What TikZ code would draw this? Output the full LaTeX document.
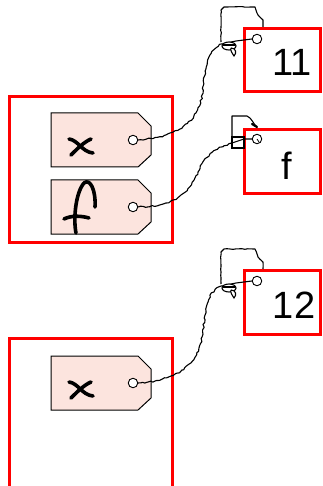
\documentclass[tikz,border=0pt]{standalone}
\usepackage{fontspec}
\setmainfont{Liberation Sans}
\usetikzlibrary{decorations.pathmorphing}
\definecolor{tagpink}{RGB}{252,228,222}
\begin{document}
\begin{tikzpicture}[x=1pt,y=-1pt,
  frame/.style={draw=red,line width=3pt},
  tagbody/.style={draw=black,fill=tagpink,line width=1pt,line join=miter},
  hole/.style={circle,draw,fill=white,inner sep=0pt,minimum size=9.5pt,line width=0.9pt},
  ink/.style={line width=3.6pt,line cap=round,line join=round},
  string/.style={line width=1.1pt,line join=round,decorate,
    decoration={random steps,segment length=2.4pt,amplitude=0.8pt}},
  loopstring/.style={line width=1.1pt,line join=round,decorate,
    decoration={random steps,segment length=3pt,amplitude=0.4pt}},
  plainstring/.style={line width=1.1pt,line join=round},
  valtext/.style={font=\fontsize{38}{40}\selectfont,inner sep=0pt},
  luggage/.pic={
    \draw[tagbody] (0,0) -- (87,0) -- (100,13) -- (100,42) -- (87,54) -- (0,54) -- cycle;
    \node[hole] (-hole) at (82,27) {};
  }]
\pgfmathsetseed{7}
\useasboundingbox (0,0) rectangle (323,486);

% variable frames
\draw[frame] (9.5,96.5) rectangle (172,242);
\draw[frame] (9.5,338.5) rectangle (172,500);

% value boxes
\draw[frame] (244.5,28.5) rectangle (320.5,92);
\node[valtext] (v11) at (292,62) {11};
\draw[frame] (244.5,129.5) rectangle (320.5,193);
\node[valtext] (vf) at (287,166) {f};
\draw[frame] (244.5,270.5) rectangle (320.5,334);
\node[valtext] (v12) at (294,305) {12};

% name tags
\pic (tx) at (51,113) {luggage};
\pic (tf) at (51,180) {luggage};
\pic (ty) at (51,356) {luggage};

% handwritten names
\draw[ink] (69,139) .. controls (78,140) and (82,152) .. (93,153);
\draw[ink] (91,139) .. controls (84,142) and (77,149) .. (71,155);
\draw[ink] (69,382) .. controls (78,383) and (82,395) .. (93,396);
\draw[ink] (91,382) .. controls (84,385) and (77,392) .. (71,398);
\draw[ink] (76,233) .. controls (73,218) and (76,192) .. (84,183)
  .. controls (90,178) and (96,190) .. (95,207);
\draw[ink] (64,219) .. controls (72,215) and (82,216) .. (89,218);

% holes on the value boxes
\node[hole] (c11) at (257,39) {};
\node[hole] (cf) at (257,139) {};
\node[hole] (c12) at (257,281) {};

% knots
\coordinate (k11) at (222,44);
\coordinate (kf) at (232,143);
\coordinate (k12) at (222,286);

% strings: tag to knot
\draw[string] (tx-hole.east) .. controls (172,138) and (198,125) .. (202,95)
  .. controls (206,70) and (205,50) .. (k11);
\draw[string] (tf-hole.east) .. controls (175,206) and (188,195) .. (198,172)
  .. controls (205,155) and (218,147) .. (kf);
\draw[string] (ty-hole.east) .. controls (172,381) and (198,368) .. (202,337)
  .. controls (206,312) and (205,292) .. (k12);

% knot to value hole
\draw[plainstring] (k11) -- (236,41) -- (c11.west);
\draw[plainstring] (kf) -- (244,139) -- (cf.west);
\draw[plainstring] (k12) -- (236,283) -- (c12.west);

% loose loops and knot blobs
\foreach \dy in {0,242}{
  \begin{scope}[yshift=-\dy pt]
  \draw[loopstring] (221,42) -- (221,10) -- (224,7) -- (255,7) -- (258,15) -- (263,20) -- (263,27);
  \draw[line width=1.1pt,fill=white] (229,46) ellipse [x radius=7,y radius=4];
  \draw[line width=1.1pt] (223,45) -- (235,45);
  \draw[line width=1.1pt,fill=white] (231,48) .. controls (236,48) and (237,53) .. (234,56)
    .. controls (232,53) and (230,50) .. (231,48);
  \end{scope}
}
\draw[line width=1.1pt] (232,137) rectangle (244,148);
\draw[plainstring] (232,137) -- (232,116) -- (247,116)
  .. controls (252,118) and (253,124) .. (257,127);
\draw[line width=2.2pt,line cap=round] (252,124) -- (257,127);
\draw[line width=0.8pt] (257,139) -- (259,142);
\end{tikzpicture}
\end{document}
